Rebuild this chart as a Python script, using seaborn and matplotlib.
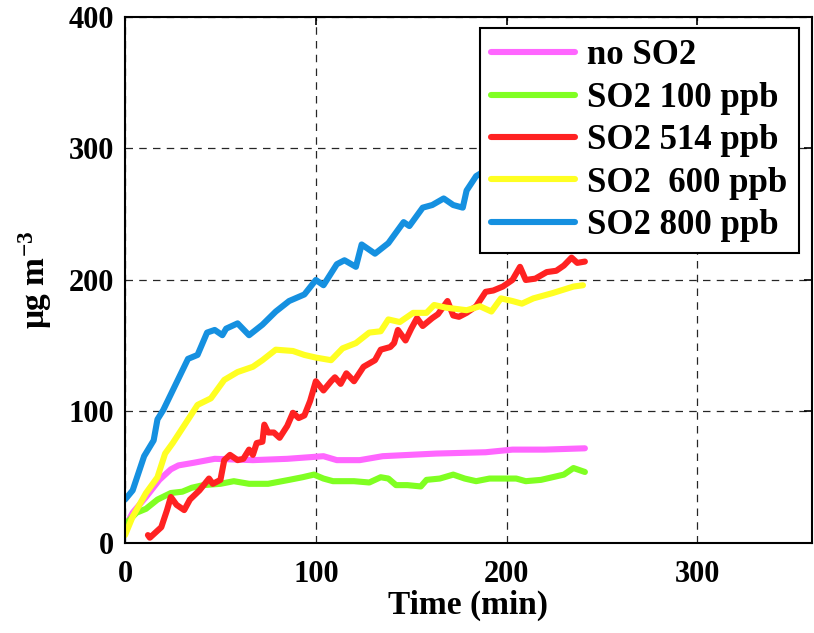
import numpy as np
import pandas as pd
import matplotlib
matplotlib.use("Agg")
import matplotlib.pyplot as plt
import seaborn as sns

# --- data (time in min, concentration in ug m-3) ---
t_noso2 = [0, 4, 11, 18, 24, 28, 36, 47, 67, 85, 104, 111, 123, 135, 149, 163, 189, 203, 220, 241]
y_noso2 = [12, 23, 35, 48, 56, 59, 61, 64, 63, 64, 66, 63, 63, 66, 67, 68, 69, 71, 71, 72]

t_so2_100 = [0, 6, 11, 17, 24, 30, 35, 41, 50, 57, 65, 75, 86, 93, 99, 104, 109, 120, 128, 134,
             138, 142, 148, 155, 158, 165, 172, 178, 184, 191, 200, 205, 210, 218, 230, 235, 241]
y_so2_100 = [14, 23, 26, 33, 38, 39, 42, 44, 45, 47, 45, 45, 48, 50, 52, 49, 47, 47, 46, 50,
             49, 44, 44, 43, 48, 49, 52, 49, 47, 49, 49, 49, 47, 48, 52, 57, 54]

t_so2_514 = [12, 13, 19, 22, 24, 27, 31, 34, 39, 44, 46, 50, 52, 55, 59, 62, 65, 67, 69, 72, 73, 75,
             78, 81, 85, 88, 91, 94, 97, 100, 104, 108, 110, 113, 116, 120, 125, 131, 134, 139, 141,
             143, 147, 150, 153, 156, 161, 164, 167, 169, 172, 175, 179, 184, 189, 193, 198, 203,
             207, 210, 215, 221, 226, 230, 234, 237, 241]
y_so2_514 = [6, 4, 12, 25, 35, 29, 25, 33, 40, 49, 45, 48, 63, 67, 63, 64, 71, 67, 76, 77, 90, 84,
             84, 80, 89, 99, 95, 97, 108, 123, 116, 123, 126, 121, 129, 123, 134, 139, 147, 149, 152,
             162, 154, 163, 171, 165, 171, 174, 180, 184, 173, 172, 175, 180, 191, 192, 195, 200,
             210, 200, 201, 206, 207, 211, 217, 213, 214]

t_so2_600 = [0, 4, 11, 17, 21, 25, 34, 38, 45, 52, 59, 67, 72, 79, 88, 94, 100, 108, 114, 121,
             128, 134, 138, 144, 151, 158, 162, 168, 179, 186, 192, 197, 203, 208, 214, 224, 235, 240]
y_so2_600 = [6, 20, 38, 50, 68, 76, 96, 105, 110, 124, 130, 134, 139, 147, 146, 143, 141, 139, 148, 152,
             160, 161, 170, 168, 175, 175, 181, 179, 177, 180, 176, 186, 184, 182, 186, 190, 195, 196]

t_so2_800 = [0, 4, 10, 15, 17, 20, 25, 31, 33, 38, 43, 47, 51, 53, 59, 65, 72, 79, 86, 94, 100,
             104, 111, 115, 121, 124, 131, 138, 146, 149, 156, 161, 167, 172, 177, 179, 184,
             192, 202, 212, 222, 232, 240]
y_so2_800 = [33, 40, 66, 78, 94, 101, 116, 134, 140, 143, 160, 162, 158, 163, 167, 158, 166, 176, 184, 189, 200,
             196, 212, 215, 210, 227, 220, 228, 244, 241, 255, 257, 262, 257, 255, 268, 279,
             286, 292, 298, 302, 306, 310]

series_names = ["no SO2", "SO2 100 ppb", "SO2 514 ppb", "SO2  600 ppb", "SO2 800 ppb"]
series_t = [t_noso2, t_so2_100, t_so2_514, t_so2_600, t_so2_800]
series_y = [y_noso2, y_so2_100, y_so2_514, y_so2_600, y_so2_800]
colors = ["#FF66FF", "#80FF22", "#FF2222", "#FFFF22", "#1590E0"]

df = pd.concat([pd.DataFrame({"time": t, "conc": y, "case": n})
                for n, t, y in zip(series_names, series_t, series_y)], ignore_index=True)

# --- style ---
sns.set_style("white")
plt.rcParams['font.family'] = ['Liberation Serif', 'DejaVu Serif']
plt.rcParams['font.weight'] = 'bold'
plt.rcParams['text.color'] = 'black'
plt.rcParams['axes.labelcolor'] = 'black'
plt.rcParams['xtick.color'] = 'black'
plt.rcParams['ytick.color'] = 'black'
plt.rcParams['mathtext.fontset'] = 'custom'
plt.rcParams['mathtext.rm'] = 'Liberation Serif:bold'
plt.rcParams['mathtext.bf'] = 'Liberation Serif:bold'
plt.rcParams['mathtext.default'] = 'bf'

fig = plt.figure(figsize=(8.14, 6.33), dpi=100)
ax = fig.add_axes([0.1536, 0.1422, 0.8439, 0.8310])

sns.lineplot(data=df, x="time", y="conc", hue="case", palette=dict(zip(series_names, colors)),
             hue_order=series_names, estimator=None, sort=False, linewidth=4.4, ax=ax)

ax.set_xlim(0, 360)
ax.set_ylim(0, 400)
ax.set_xticks([0, 100, 200, 300])
ax.set_yticks([0, 100, 200, 300, 400])
ax.grid(True, color='black', linestyle=(0, (6, 5)), linewidth=0.9, alpha=0.85)
ax.tick_params(direction='in', length=6, width=1.2, top=True, right=True,
               labelsize=22, pad=8)
ax.tick_params(axis='x', pad=12)
for lab in ax.get_xticklabels() + ax.get_yticklabels():
    lab.set_fontweight('bold')
for s in ax.spines.values():
    s.set_color('black')
    s.set_linewidth(1.5)

ax.set_xlabel('Time (min)', fontsize=24, fontweight='bold', labelpad=1)
ax.set_ylabel(r'μg m$^{-3}$', fontsize=24, fontweight='bold', labelpad=10)

handles, labels = ax.get_legend_handles_labels()
leg = ax.legend(handles, labels, loc='upper right', bbox_to_anchor=(0.9805, 0.979),
                fontsize=25, frameon=True, fancybox=False, framealpha=1,
                edgecolor='black', handlelength=2.4, handletextpad=0.35,
                labelspacing=0.27, borderpad=0.33, borderaxespad=0)
leg.get_frame().set_linewidth(1.5)
for line in leg.get_lines():
    line.set_linewidth(4.4)
for txt in leg.get_texts():
    txt.set_fontweight('bold')

fig.savefig("out.png", dpi=100)
